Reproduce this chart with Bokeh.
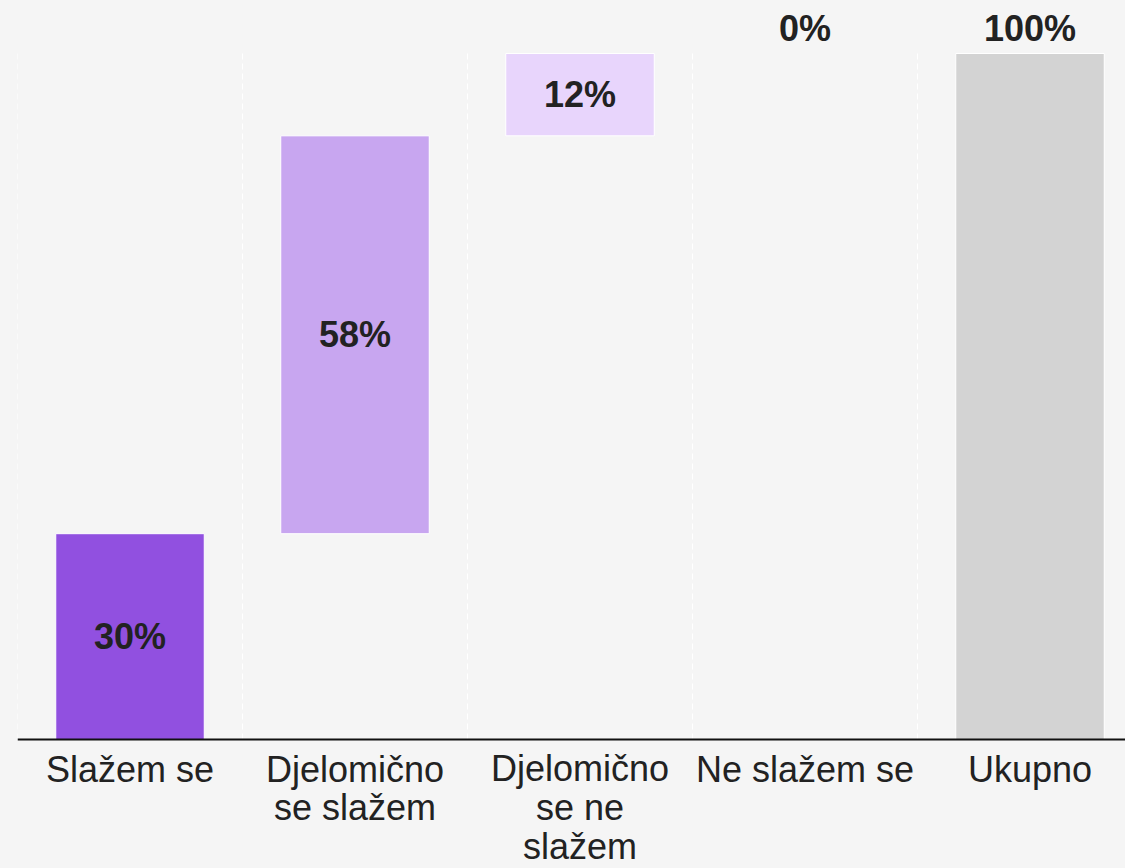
from bokeh.plotting import figure
from bokeh.models import ColumnDataSource, Range1d, GlobalInlineStyleSheet, Span
from bokeh.core.properties import value
from bokeh.embed import file_html
from bokeh.resources import INLINE

categories = ["Slažem se", "Djelomično\nse slažem", "Djelomično\nse ne\nslažem", "Ne slažem se", "Ukupno"]
values = [30, 58, 12, 0, 100]
is_total = [False, False, False, False, True]
colors = ["#9150e0", "#c8a6f0", "#e8d5fc", "#e8d5fc", "#d3d3d3"]
labels = ["30%", "58%", "12%", "0%", "100%"]

# waterfall geometry from the data
bottoms, tops = [], []
running = 0
for v, t in zip(values, is_total):
    if t:
        bottoms.append(0)
        tops.append(v)
    else:
        bottoms.append(running)
        running += v
        tops.append(running)

xs = [i + 0.5 for i in range(len(categories))]
inside = [(v > 0 and not t) for v, t in zip(values, is_total)]
outline_alpha = [1.0 if v > 0 else 0.0 for v in values]

PX = 6.86  # pixels per percentage point

p = figure(width=1125, height=868, output_backend="svg", toolbar_location=None,
           x_range=Range1d(0, 1108 / 225), y_range=Range1d(-129 / PX, 739 / PX),
           min_border_left=17, min_border_right=0, min_border_top=0, min_border_bottom=0)
p.stylesheets = [GlobalInlineStyleSheet(css="body { background: #f5f5f5; }")]
p.background_fill_color = "#f5f5f5"
p.border_fill_color = "#f5f5f5"
p.outline_line_color = None
p.xgrid.visible = False
p.ygrid.visible = False
p.xaxis.visible = False
p.yaxis.visible = False

# dashed separators between categories
sep_x = list(range(len(categories)))
p.segment(x0=sep_x, y0=[0] * len(sep_x), x1=sep_x, y1=[max(tops)] * len(sep_x),
          line_color="white", line_width=1, line_dash="6 4")

src = ColumnDataSource(dict(x=xs, bottom=bottoms, top=tops, color=colors, la=outline_alpha))
p.vbar(x="x", bottom="bottom", top="top", width=0.66, fill_color="color",
       line_color="white", line_alpha="la", line_width=1, source=src)

# baseline (x axis line)
p.add_layout(Span(location=0, dimension="width", line_color="#111111", line_width=2))

in_x = [x for x, k in zip(xs, inside) if k]
in_y = [(b + t) / 2 for b, t, k in zip(bottoms, tops, inside) if k]
in_t = [l for l, k in zip(labels, inside) if k]
p.text(x=in_x, y=in_y, text=in_t, text_font=value("Liberation Sans"), text_font_style="bold",
       text_font_size="36px", text_color="#222222", text_align="center", text_baseline="middle")

out_x = [x for x, k in zip(xs, inside) if not k]
out_y = [t + 25.5 / PX for t, k in zip(tops, inside) if not k]
out_t = [l for l, k in zip(labels, inside) if not k]
p.text(x=out_x, y=out_y, text=out_t, text_font=value("Liberation Sans"), text_font_style="bold",
       text_font_size="36px", text_color="#222222", text_align="center", text_baseline="middle")

# category labels under the baseline
n_lines = [c.count("\n") + 1 for c in categories]
cat_y = [-(30 + (n - 1) * 19) / PX for n in n_lines]
p.text(x=xs, y=cat_y, text=categories, text_font=value("Liberation Sans"),
       text_font_size="36px", text_color="#222222", text_align="center", text_baseline="middle",
       text_line_height=0.95)

open("out.html", "w").write(file_html(p, INLINE))
